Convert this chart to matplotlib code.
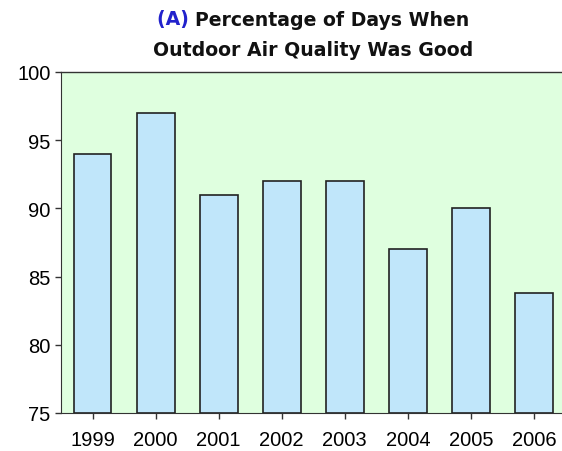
import matplotlib
matplotlib.use("Agg")
import matplotlib.pyplot as plt

years = ["1999", "2000", "2001", "2002", "2003", "2004", "2005", "2006"]
values = [94, 97, 91, 92, 92, 87, 90, 83.8]
yticks = [75, 80, 85, 90, 95, 100]

fig = plt.figure(figsize=(5.62, 4.52), dpi=100)
ax = fig.add_axes([61/562, 38/452, (565.5-61)/562, (414-73)/452])
ax.set_facecolor("#dfffdf")
x = list(range(len(years)))
ax.bar(x, [v - 75 for v in values], bottom=75, width=0.6, color="#c0e6fa",
       edgecolor="#222222", linewidth=1.2, zorder=3)
ax.set_ylim(75, 100)
ax.set_xlim(-0.5, len(years) - 0.5)
ax.set_yticks(yticks)
ax.set_yticklabels([str(t) for t in yticks], fontsize=14.5, family="Liberation Sans")
ax.set_xticks(x)
ax.set_xticklabels(years, fontsize=14.5, family="Liberation Sans")
ax.tick_params(axis="both", direction="out", length=4, width=1, color="#333333")
ax.tick_params(axis="x", pad=8)
for s in ["top", "right"]:
    ax.spines[s].set_visible(False)
for s in ["left", "bottom"]:
    ax.spines[s].set_color("#333333")
ax.axhline(100, color="#333333", linewidth=1, zorder=4, clip_on=False)

fs = 13.6
cx = (61 + 565.5) / 2 / 562
txt_a = fig.text(0, 0, "(A) ", fontsize=fs, fontweight="bold", family="DejaVu Sans")
txt_b = fig.text(0, 0, "Percentage of Days When", fontsize=fs, fontweight="bold", family="DejaVu Sans")
fig.canvas.draw()
r = fig.canvas.get_renderer()
wa = txt_a.get_window_extent(r).width
wb = txt_b.get_window_extent(r).width
txt_a.remove(); txt_b.remove()
left = cx * 562 - (wa + wb) / 2
fig.text(left / 562, 1 - 20/452, "(A) ", color="#2222cc", fontsize=fs, fontweight="bold",
         ha="left", va="center", family="DejaVu Sans")
fig.text((left + wa) / 562, 1 - 20/452, "Percentage of Days When", color="#111111",
         fontsize=fs, fontweight="bold", ha="left", va="center", family="DejaVu Sans")
fig.text(cx, 1 - 50/452, "Outdoor Air Quality Was Good", color="#111111",
         fontsize=fs, fontweight="bold", ha="center", va="center", family="DejaVu Sans")

fig.savefig("out.png", dpi=100, facecolor="white")
